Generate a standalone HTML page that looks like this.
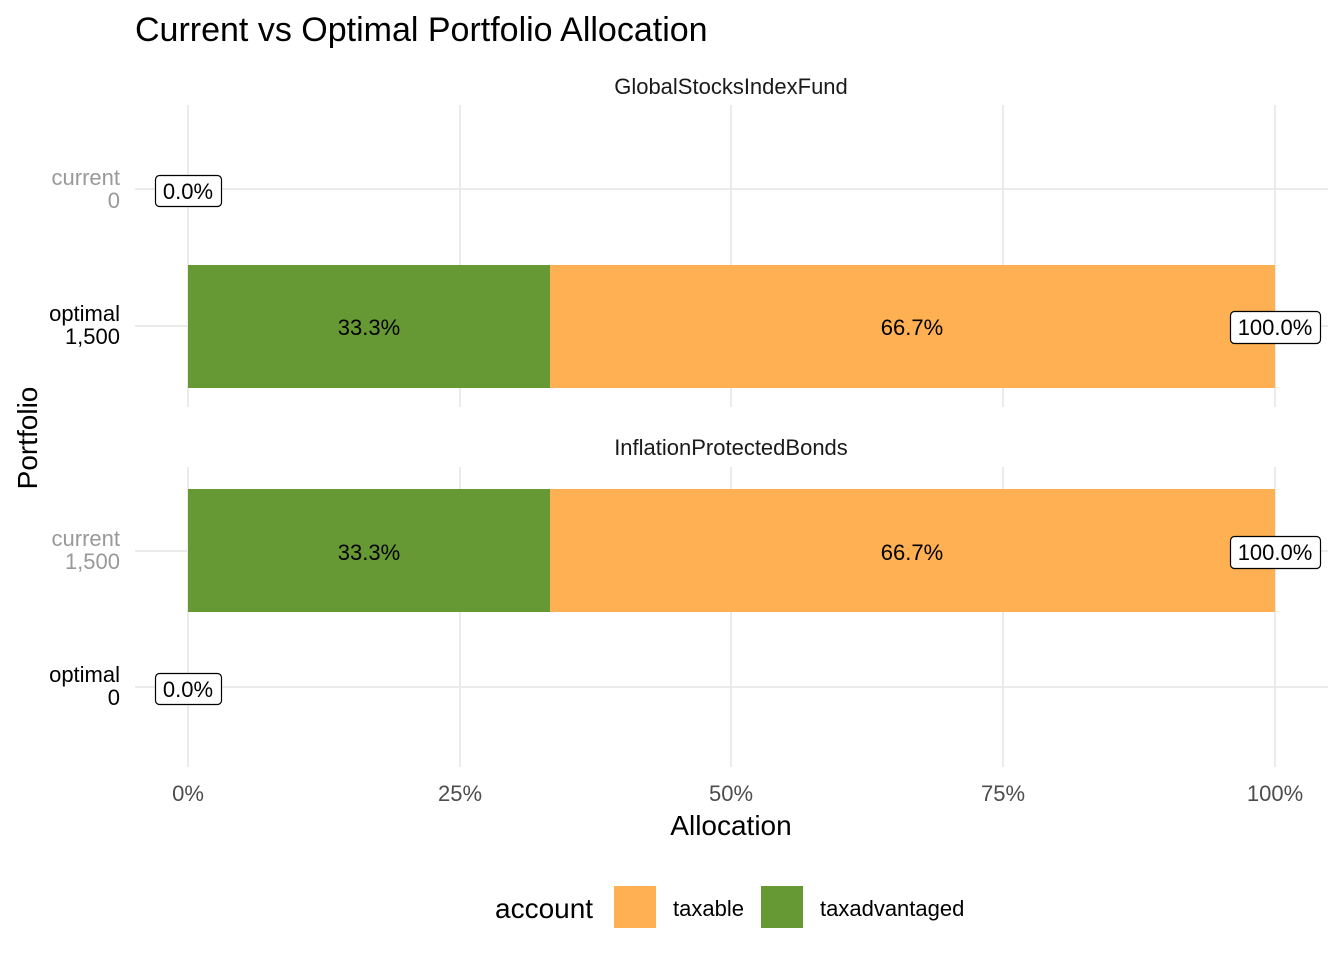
<!DOCTYPE html>
<html><head><meta charset="utf-8"><style>
html,body{margin:0;padding:0;background:#fff;}
text{font-family:"Liberation Sans",Arial,sans-serif;}
</style></head><body>
<svg width="1344" height="960" viewBox="0 0 1344 960" xmlns="http://www.w3.org/2000/svg">
<rect width="1344" height="960" fill="#fff"/>
<text x="135" y="41" font-size="34" fill="#000">Current vs Optimal Portfolio Allocation</text>
<g stroke="#ebebeb" stroke-width="2">
<line x1="188" y1="105" x2="188" y2="407"/><line x1="460" y1="105" x2="460" y2="407"/><line x1="731" y1="105" x2="731" y2="407"/><line x1="1003" y1="105" x2="1003" y2="407"/><line x1="1275" y1="105" x2="1275" y2="407"/>
<line x1="135" y1="189" x2="1328" y2="189"/><line x1="135" y1="326" x2="1328" y2="326"/>
<line x1="188" y1="467" x2="188" y2="767"/><line x1="460" y1="467" x2="460" y2="767"/><line x1="731" y1="467" x2="731" y2="767"/><line x1="1003" y1="467" x2="1003" y2="767"/><line x1="1275" y1="467" x2="1275" y2="767"/>
<line x1="135" y1="551" x2="1328" y2="551"/><line x1="135" y1="687" x2="1328" y2="687"/>
</g>
<text x="731" y="94" font-size="22" text-anchor="middle" fill="#1a1a1a">GlobalStocksIndexFund</text>
<text x="731" y="455" font-size="22" text-anchor="middle" fill="#1a1a1a">InflationProtectedBonds</text>
<rect x="188" y="265" width="362" height="123" fill="#669933"/>
<rect x="550" y="265" width="725" height="123" fill="#FFB052"/>
<rect x="188" y="489" width="362" height="123" fill="#669933"/>
<rect x="550" y="489" width="725" height="123" fill="#FFB052"/>
<g font-size="22" text-anchor="middle" fill="#000">
<text x="369" y="335">33.3%</text><text x="912" y="335">66.7%</text>
<text x="369" y="560">33.3%</text><text x="912" y="560">66.7%</text>
</g>
<g fill="#fff" stroke="#000" stroke-width="1.2">
<rect x="155.5" y="175.5" width="66" height="31" rx="4"/>
<rect x="155.5" y="673.5" width="66" height="31" rx="4"/>
<rect x="1230.5" y="311.5" width="90" height="32" rx="4"/>
<rect x="1230.5" y="536.5" width="90" height="32" rx="4"/>
</g>
<g font-size="22" text-anchor="middle" fill="#000">
<text x="188" y="199">0.0%</text><text x="188" y="697">0.0%</text>
<text x="1275" y="335">100.0%</text><text x="1275" y="560">100.0%</text>
</g>
<g font-size="22" text-anchor="end">
<text x="120" y="185" fill="#999">current</text><text x="120" y="208" fill="#999">0</text>
<text x="120" y="321" fill="#000">optimal</text><text x="120" y="344" fill="#000">1,500</text>
<text x="120" y="546" fill="#999">current</text><text x="120" y="569" fill="#999">1,500</text>
<text x="120" y="682" fill="#000">optimal</text><text x="120" y="705" fill="#000">0</text>
</g>
<g font-size="22" text-anchor="middle" fill="#4d4d4d">
<text x="188" y="801">0%</text><text x="460" y="801">25%</text><text x="731" y="801">50%</text><text x="1003" y="801">75%</text><text x="1275" y="801">100%</text>
</g>
<text x="731" y="835" font-size="28" text-anchor="middle" fill="#000">Allocation</text>
<text transform="translate(37,438) rotate(-90)" font-size="28" text-anchor="middle" fill="#000">Portfolio</text>
<text x="495" y="918" font-size="28" fill="#000">account</text>
<rect x="614" y="886" width="42" height="42" fill="#FFB052"/>
<text x="673" y="916" font-size="22" fill="#000">taxable</text>
<rect x="761" y="886" width="42" height="42" fill="#669933"/>
<text x="820" y="916" font-size="22" fill="#000">taxadvantaged</text>
</svg>
</body></html>
